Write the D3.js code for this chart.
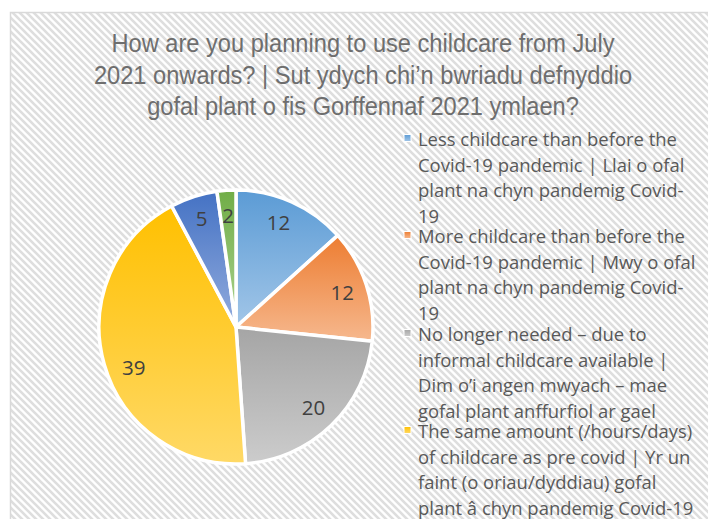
<!DOCTYPE html>
<html>
<head>
<meta charset="utf-8">
<script src="https://cdn.jsdelivr.net/npm/d3@7"></script>
<style>
  html, body { margin: 0; padding: 0; background: #ffffff; }
  svg { display: block; }
</style>
</head>
<body>
<svg id="chart" width="708" height="519"></svg>
<script>
// Survey responses: planned childcare use from July 2021
const titleLines = [
  "How are you planning to use childcare from July",
  "2021 onwards? | Sut ydych chi\u2019n bwriadu defnyddio",
  "gofal plant o fis Gorffennaf 2021 ymlaen?"
];
const values = [12, 12, 20, 39, 5, 2];
// Legend entries (the legend runs past the bottom edge of the chart area)
const legendLabels = [
  ["Less childcare than before the", "Covid-19 pandemic | Llai o ofal", "plant na chyn pandemig Covid-", "19"],
  ["More childcare than before the", "Covid-19 pandemic | Mwy o ofal", "plant na chyn pandemig Covid-", "19"],
  ["No longer needed \u2013 due to", "informal childcare available |", "Dim o\u2019i angen mwyach \u2013 mae", "gofal plant anffurfiol ar gael"],
  ["The same amount (/hours/days)", "of childcare as pre covid | Yr un", "faint (o oriau/dyddiau) gofal", "plant \u00e2 chyn pandemig Covid-19"]
];
// Slice fills: [top colour, bottom colour] of each vertical gradient
const sliceColors = [
  ["#5b9bd5", "#a2c6e8"],
  ["#ed7d31", "#f6b88e"],
  ["#a5a5a5", "#cccccc"],
  ["#ffc000", "#ffd966"],
  ["#4472c4", "#93acdd"],
  ["#70ad47", "#acd28f"]
];
// Extra nudge of each value label from its best-fit point, in px
const labelNudge = [[-3, -2], [0, 0], [0, 0], [5, 10], [0, -2], [0, 0]];

const svg = d3.select("#chart");
const defs = svg.append("defs");

// Diagonal hatch used for the chart area
const hatch = defs.append("pattern")
  .attr("id", "hatch")
  .attr("patternUnits", "userSpaceOnUse")
  .attr("width", 7).attr("height", 7);
hatch.append("rect").attr("width", 7).attr("height", 7).attr("fill", "#ffffff");
hatch.append("path")
  .attr("d", "M-1,-1 L8,8 M-1,6 L1,8 M6,-1 L8,1")
  .attr("stroke", "#dedede")
  .attr("stroke-width", 2.6);

sliceColors.forEach((c, i) => {
  const g = defs.append("linearGradient")
    .attr("id", "grad" + i)
    .attr("x1", 0).attr("y1", 0).attr("x2", 0).attr("y2", 1);
  g.append("stop").attr("offset", "0%").attr("stop-color", c[0]);
  g.append("stop").attr("offset", "100%").attr("stop-color", c[1]);
});

// Chart area
svg.append("rect")
  .attr("x", 10.5).attr("y", 12.5)
  .attr("width", 720).attr("height", 530)
  .attr("fill", "url(#hatch)")
  .attr("stroke", "#d9d9d9")
  .attr("stroke-width", 1.5);

// Title: condensed so the first line spans 503px
const titleG = svg.append("g");
const titleFont = "'Liberation Sans', Arial, sans-serif";
const titleSize = 26;
const titleText = titleG.selectAll("text")
  .data(titleLines)
  .join("text")
  .attr("x", 363)
  .attr("y", (d, i) => 52 + i * 31.5)
  .attr("text-anchor", "middle")
  .attr("font-family", titleFont)
  .attr("font-size", titleSize)
  .attr("fill", "#6e6e6e")
  .text(d => d);
{
  const widths = titleText.nodes().map(n => n.getComputedTextLength());
  const k = 503 / widths[0];
  titleText
    .attr("textLength", (d, i) => (widths[i] * k).toFixed(1))
    .attr("lengthAdjust", "spacingAndGlyphs");
}

// Pie
const cx = 236, cy = 327, radius = 137;
const pie = d3.pie().sort(null).value(d => d)(values);
const arc = d3.arc().innerRadius(0).outerRadius(radius);
const labelArc = d3.arc().innerRadius(radius * 0.815).outerRadius(radius * 0.815);

const pieG = svg.append("g").attr("transform", `translate(${cx},${cy})`);
pieG.selectAll("path")
  .data(pie)
  .join("path")
  .attr("d", arc)
  .attr("fill", (d, i) => `url(#grad${i})`)
  .attr("stroke", "#ffffff")
  .attr("stroke-width", 3.5)
  .attr("stroke-linejoin", "round");

pieG.selectAll("text")
  .data(pie)
  .join("text")
  .attr("transform", (d, i) => {
    const [x, y] = labelArc.centroid(d);
    return `translate(${x + labelNudge[i][0]},${y + labelNudge[i][1]})`;
  })
  .attr("text-anchor", "middle")
  .attr("dy", "0.36em")
  .attr("font-family", "'Open Sans', sans-serif")
  .attr("font-size", 20.5)
  .attr("fill", "#404040")
  .text(d => d.value);

// Legend
const legendFont = "'Open Sans', sans-serif";
const legendX = 418;
const firstBaselines = [146, 243, 341, 438];
const lineStep = 25.5;
const legendG = svg.append("g");
const items = legendG.selectAll("g")
  .data(legendLabels)
  .join("g");
items.append("rect")
  .attr("x", legendX - 14).attr("y", (d, i) => firstBaselines[i] - 11.5)
  .attr("width", 7).attr("height", 7)
  .attr("fill", (d, i) => `url(#grad${i})`)
  .attr("stroke", "#ffffff")
  .attr("stroke-width", 1);
const legendText = items.append("text")
  .attr("font-family", legendFont)
  .attr("font-size", 19)
  .attr("fill", "#595959");
legendText.each(function (lines, i) {
  d3.select(this).selectAll("tspan")
    .data(lines)
    .join("tspan")
    .attr("x", legendX)
    .attr("y", (d, j) => firstBaselines[i] + j * lineStep)
    .text(d => d);
});
{
  const t = legendText.nodes()[0].querySelector("tspan");
  const w = t.getComputedTextLength();
  const fs = 19 * 259 / w;
  legendText.attr("font-size", fs.toFixed(2));
}
</script>
</body>
</html>
